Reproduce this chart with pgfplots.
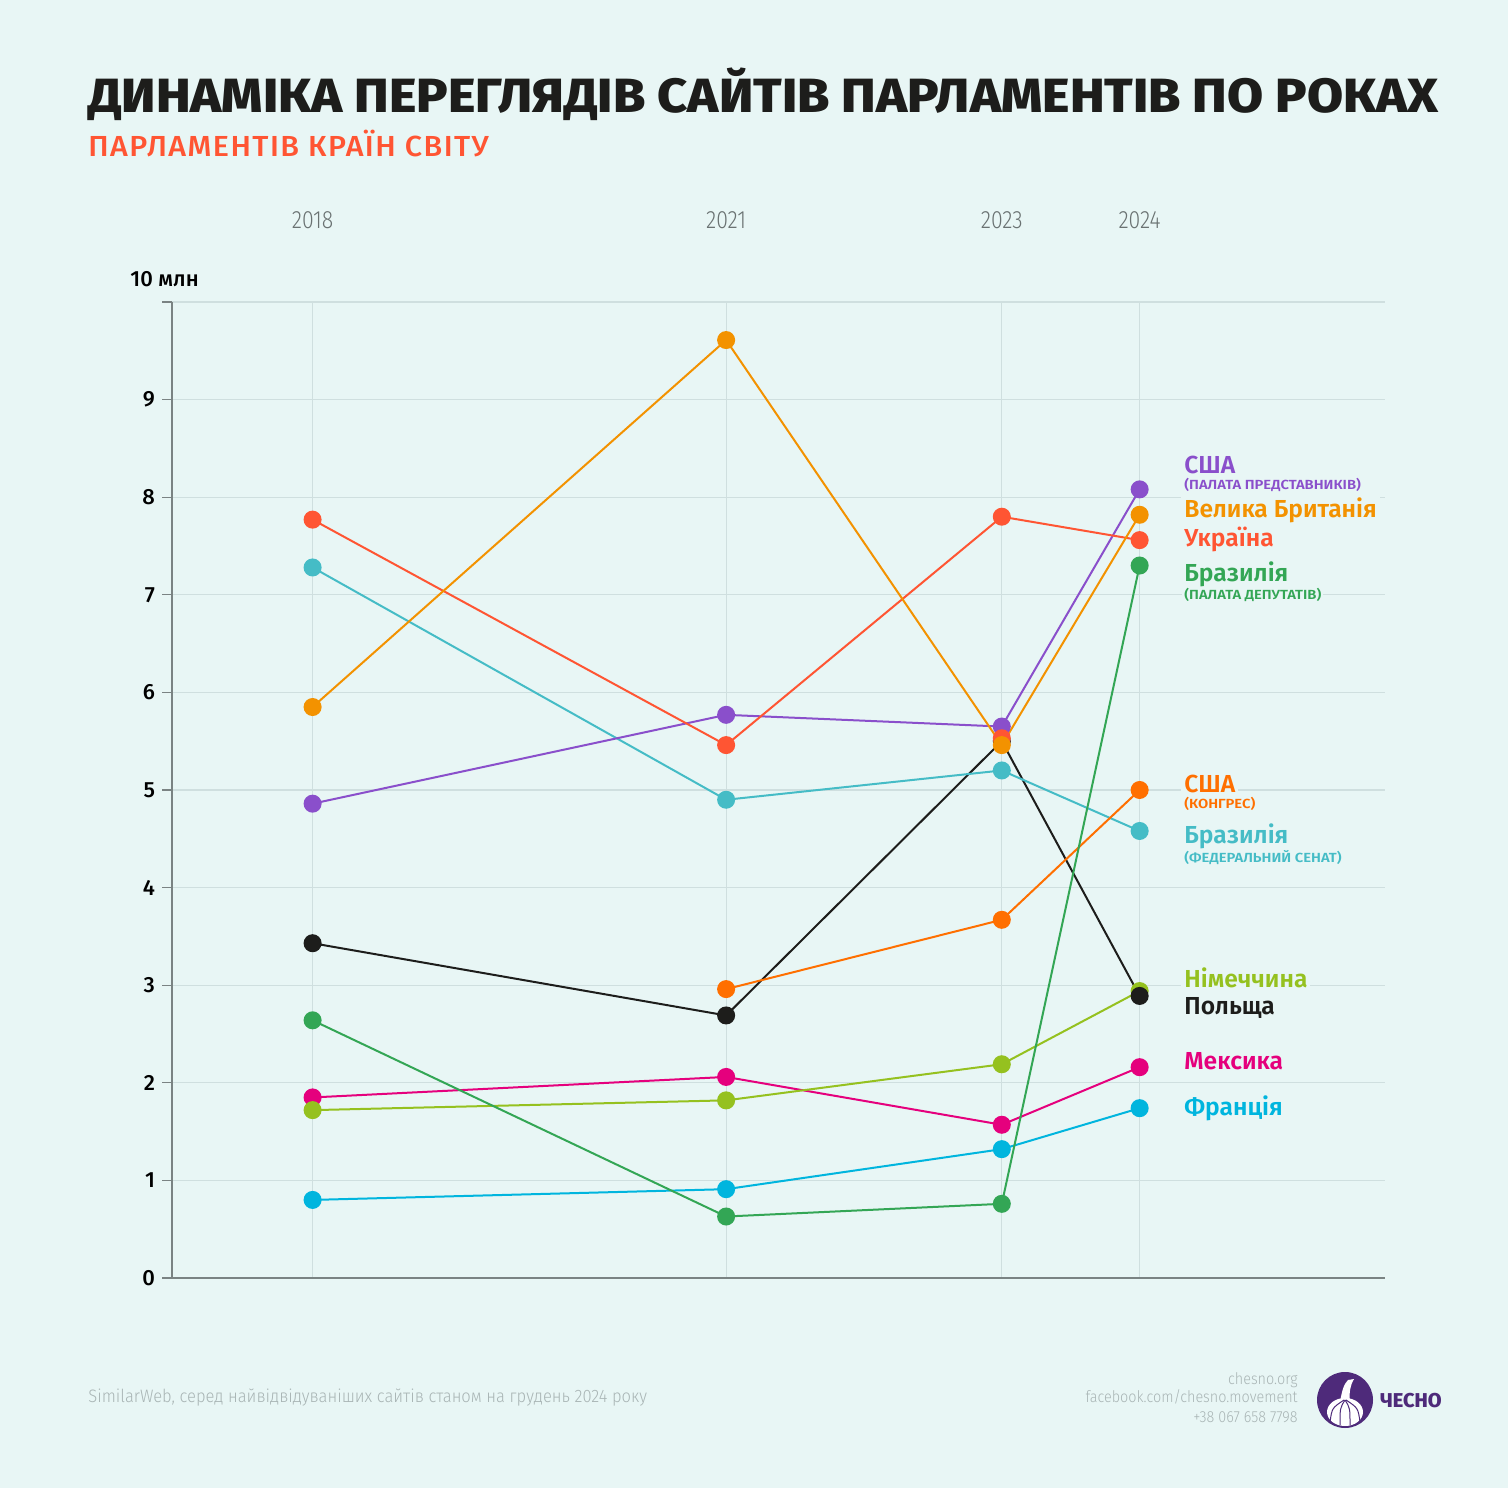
\documentclass[border=0pt]{standalone}
\usepackage{fontspec}
\setmainfont{Fira Sans}
\newfontfamily\titlef{Fira Sans ExtraBold}[FakeStretch=1.09]
\newfontfamily\logof{Fira Sans ExtraBold}
\newfontfamily\semif{Fira Sans SemiBold}
\newfontfamily\subf{Fira Sans SemiBold}[FakeStretch=1.12]
\newfontfamily\medf{Fira Sans Medium}
\newfontfamily\lightf{Fira Sans Light}[FakeStretch=0.85]
\newfontfamily\footf{Fira Sans Light}[FakeStretch=0.92]
\newfontfamily\footrf{Fira Sans Light}[FakeStretch=0.9]
\newfontfamily\condf{Fira Sans Medium}[LetterSpace=5,FakeStretch=1.05]
\usepackage{pgfplots}
\pgfplotsset{compat=1.18}
\definecolor{bg}{HTML}{E8F6F5}
\definecolor{gridc}{HTML}{CFDFDF}
\definecolor{axisc}{HTML}{7A8383}
\definecolor{yearc}{HTML}{6A7272}
\definecolor{footc}{HTML}{A9B5B5}
\definecolor{cpurple}{HTML}{8A4FCB}
\definecolor{cuk}{HTML}{F39200}
\definecolor{cua}{HTML}{FF5533}
\definecolor{cbrch}{HTML}{33A655}
\definecolor{ccong}{HTML}{FF6F00}
\definecolor{cbrsen}{HTML}{45BCC6}
\definecolor{cger}{HTML}{95C11F}
\definecolor{cpol}{HTML}{1D1D1B}
\definecolor{cmex}{HTML}{E5007D}
\definecolor{cfra}{HTML}{00B5DE}
\definecolor{logoc}{HTML}{4E2A7A}
\begin{document}
\begin{tikzpicture}
\fill[bg] (0,0) rectangle (754pt,744pt);
\node[anchor=base west, inner sep=0pt, font=\titlef\fontsize{24}{28}\selectfont, text=cpol] at (44pt,687.5pt) {ДИНАМІКА ПЕРЕГЛЯДІВ САЙТІВ ПАРЛАМЕНТІВ ПО РОКАХ};
\node[anchor=base west, inner sep=0pt, font=\condf\fontsize{14.5}{17}\selectfont, text=cua] at (44pt,665.5pt) {ПАРЛАМЕНТІВ КРАЇН СВІТУ};
\begin{axis}[
  at={(86pt,105pt)}, anchor=south west,
  width=606.5pt, height=488pt, scale only axis,
  xmin=2016.98, xmax=2025.78, ymin=0, ymax=10,
  axis x line*=bottom, axis y line*=left,
  axis line style={draw=axisc, line width=0.6pt, -},
  xtick={2018,2021,2023,2024}, xticklabels={},
  xmajorgrids, ymajorgrids,
  major grid style={draw=gridc, line width=0.6pt},
  ytick={0,1,2,3,4,5,6,7,8,9,10},
  yticklabels={0,1,2,3,4,5,6,7,8,9,{}},
  tick align=outside, major tick length=5pt,
  xtick style={draw=none},
  ytick style={draw=axisc, line width=0.6pt},
  yticklabel style={font=\medf\fontsize{11}{13}\selectfont, text=black},
  /pgf/number format/assume math mode=true,
  clip=false,
  every axis plot/.append style={line width=1pt, mark=*, mark size=4pt, mark options={solid}},
]
\addplot[color=cfra] coordinates {(2018,0.80) (2021,0.91) (2023,1.32) (2024,1.74)};
\addplot[color=cmex] coordinates {(2018,1.85) (2021,2.06) (2023,1.57) (2024,2.16)};
\addplot[color=cger] coordinates {(2018,1.72) (2021,1.82) (2023,2.19) (2024,2.94)};
\addplot[color=cpol] coordinates {(2018,3.43) (2021,2.69) (2023,5.50) (2024,2.89)};
\addplot[color=cbrsen] coordinates {(2018,7.28) (2021,4.90) (2023,5.20) (2024,4.58)};
\addplot[color=ccong] coordinates {(2021,2.96) (2023,3.67) (2024,5.00)};
\addplot[color=cbrch] coordinates {(2018,2.64) (2021,0.63) (2023,0.76) (2024,7.30)};
\addplot[color=cpurple] coordinates {(2018,4.86) (2021,5.77) (2023,5.65) (2024,8.08)};
\addplot[color=cua, only marks] coordinates {(2023,5.53)};
\addplot[color=cua] coordinates {(2018,7.77) (2021,5.46) (2023,7.80) (2024,7.56)};
\addplot[color=cuk] coordinates {(2018,5.85) (2021,9.61) (2023,5.46) (2024,7.82)};
\foreach \yr in {2018,2021,2023,2024} {
  \edef\tmp{\noexpand\node[anchor=base, inner sep=0pt, font=\noexpand\lightf\noexpand\fontsize{12.5}{14}\noexpand\selectfont, text=yearc, yshift=36.5pt] at (axis cs:\yr,10) {\yr};}
  \tmp
}
\end{axis}
\node[anchor=base west, inner sep=0pt, font=\medf\fontsize{11}{13}\selectfont] at (65pt,600.5pt) {10 млн};
% right labels
\tikzset{lab/.style={anchor=base west, inner sep=1.5pt, fill=bg, font=\semif\fontsize{12.3}{14}\selectfont},
         sub/.style={anchor=base west, inner sep=1pt, fill=bg, font=\subf\fontsize{6.6}{8}\selectfont}}
\node[lab, text=cpurple] at (590.5pt,507pt) {США};
\node[sub, text=cpurple] at (591pt,499pt) {(ПАЛАТА ПРЕДСТАВНИКІВ)};
\node[lab, text=cuk] at (590.5pt,485pt) {Велика Британія};
\node[lab, text=cua] at (590.5pt,470.5pt) {Україна};
\node[lab, text=cbrch] at (590.5pt,453pt) {Бразилія};
\node[sub, text=cbrch] at (591pt,444pt) {(ПАЛАТА ДЕПУТАТІВ)};
\node[lab, text=ccong] at (590.5pt,347.5pt) {США};
\node[sub, text=ccong] at (591pt,339.5pt) {(КОНГРЕС)};
\node[lab, text=cbrsen] at (590.5pt,322pt) {Бразилія};
\node[sub, text=cbrsen] at (591pt,312.5pt) {(ФЕДЕРАЛЬНИЙ СЕНАТ)};
\node[lab, text=cger] at (590.5pt,250pt) {Німеччина};
\node[lab, text=cpol] at (590.5pt,236.5pt) {Польща};
\node[lab, text=cmex] at (590.5pt,209pt) {Мексика};
\node[lab, text=cfra] at (590.5pt,186pt) {Франція};
% footer
\node[anchor=base west, inner sep=0pt, font=\footf\fontsize{9}{11}\selectfont, text=footc] at (44pt,43pt) {SimilarWeb, серед найвідвідуваніших сайтів станом на грудень 2024 року};
\node[anchor=base east, inner sep=0pt, font=\footrf\fontsize{8}{10}\selectfont, text=footc] at (649pt,52pt) {chesno.org};
\node[anchor=base east, inner sep=0pt, font=\footrf\fontsize{8}{10}\selectfont, text=footc] at (649pt,43pt) {facebook.com/chesno.movement};
\node[anchor=base east, inner sep=0pt, font=\footrf\fontsize{8}{10}\selectfont, text=footc] at (649pt,33pt) {+38 067 658 7798};
% logo
\fill[logoc] (672.5pt,44pt) circle (14pt);
\fill[white] (672.5pt,38pt) ellipse (9pt and 7pt);
\fill[white] (670pt,43pt) .. controls (671pt,49pt) and (672pt,52pt) .. (674pt,54pt) -- (677pt,54.5pt) .. controls (675pt,51pt) and (674.5pt,48pt) .. (675pt,43pt) -- cycle;
\draw[logoc, line width=0.5pt] (672.5pt,44pt) .. controls (670pt,40pt) .. (670pt,31.5pt);
\draw[logoc, line width=0.5pt] (672.5pt,44pt) .. controls (675pt,40pt) .. (675pt,31.5pt);
\draw[logoc, line width=0.5pt] (672pt,44pt) .. controls (666pt,40pt) .. (665pt,33pt);
\draw[logoc, line width=0.5pt] (673pt,44pt) .. controls (679pt,40pt) .. (680pt,33pt);
\node[anchor=base west, inner sep=0pt, font=\logof\fontsize{10}{12}\selectfont, text=logoc] at (690pt,40.5pt) {ЧЕСНО};
\end{tikzpicture}
\end{document}
